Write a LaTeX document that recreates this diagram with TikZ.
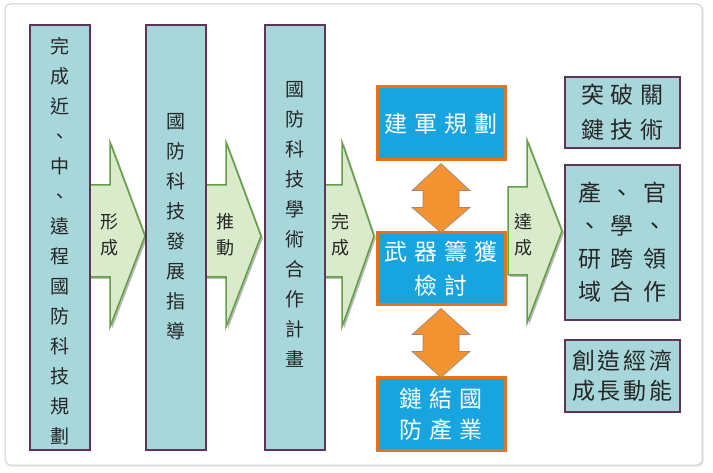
\documentclass[tikz,border=0pt]{standalone}
\usepackage{fontspec}
\setmainfont{Noto Sans CJK TC}
\usetikzlibrary{shadows}
\definecolor{tealfill}{HTML}{A8D7DB}
\definecolor{plum}{HTML}{5E3556}
\definecolor{gfill}{HTML}{D9EBCB}
\definecolor{gline}{HTML}{62A046}
\definecolor{bfill}{HTML}{18A4DF}
\definecolor{bline}{HTML}{E2731F}
\definecolor{ofill}{HTML}{F39231}
\definecolor{framegray}{HTML}{D2D2D2}
\newcommand\cgap{\hspace{7pt}}
\tikzset{
  colbox/.style={draw=plum, line width=2pt, fill=tealfill, minimum width=60pt, inner sep=0pt},
  coltext/.style={align=center, inner sep=0pt, font=\fontsize{19}{30}\selectfont, text=black!85},
  arrtext/.style={align=center, inner sep=0pt, font=\fontsize{18}{26}\selectfont, text=black!85},
  greenarrow/.style={fill=gfill, draw=gline, line width=1.5pt, line join=miter,
     drop shadow={shadow xshift=2pt, shadow yshift=-2pt, opacity=0.4, fill=black!70}},
  bluebox/.style={draw=bline, line width=3pt, fill=bfill, text=white, align=center, inner sep=0pt,
     minimum width=128pt, font=\fontsize{23}{33}\selectfont},
  orangearrow/.style={fill=ofill, draw=black!45, line width=0.6pt, line join=miter},
  tealbox/.style={draw=plum, line width=2pt, fill=tealfill, text=black!85, align=center, inner sep=0pt,
     minimum width=115pt, font=\fontsize{23}{35}\selectfont},
}
\begin{document}
\begin{tikzpicture}[x=1pt,y=-1pt]
\useasboundingbox (0,0) rectangle (713,473);
\fill[white] (0,0) rectangle (713,473);
\draw[framegray, line width=1pt, rounded corners=5pt,
  drop shadow={shadow xshift=1.5pt, shadow yshift=-1.5pt, opacity=0.25, fill=black!40}, fill=white]
  (5,4) rectangle (702,465);

% green arrows (drawn first so the boxes overlay their tails)
\path[greenarrow] (88,185) -- (110,185) -- (110,142) -- (145,236) -- (110,327) -- (110,277) -- (88,277) -- cycle;
\path[greenarrow] (203,185) -- (226,185) -- (226,142) -- (261,236) -- (226,327) -- (226,277) -- (203,277) -- cycle;
\path[greenarrow] (323,185) -- (342,185) -- (342,142) -- (374,236) -- (342,327) -- (342,277) -- (323,277) -- cycle;
\path[greenarrow] (508,187) -- (527,187) -- (527,140) -- (562,231) -- (527,323) -- (527,275) -- (508,275) -- cycle;

% tall columns
\node[colbox, minimum height=425pt] (c1) at (60,237.5) {};
\node[colbox, minimum height=425pt] (c2) at (176,237.5) {};
\node[colbox, minimum height=425pt] (c3) at (295,237.5) {};
\node[coltext] (c1t) at (60,241.5) {完\\成\\近\\、\\中\\、\\遠\\程\\國\\防\\科\\技\\規\\劃};
\node[coltext] (c2t) at (176,226.5) {國\\防\\科\\技\\發\\展\\指\\導};
\node[coltext] (c3t) at (295,224) {國\\防\\科\\技\\學\\術\\合\\作\\計\\畫};

% arrow labels
\node[arrtext] (a1t) at (109,235) {形\\成};
\node[arrtext] (a2t) at (225,235) {推\\動};
\node[arrtext] (a3t) at (340,235) {完\\成};
\node[arrtext] (a4t) at (523,235) {達\\成};

% blue boxes
\node[bluebox, minimum height=73pt] (jp) at (441,123.5) {建\cgap 軍\cgap 規\cgap 劃};
\node[bluebox, minimum height=72pt, font=\fontsize{23}{34}\selectfont] (wq) at (441,269) {武\cgap 器\cgap 籌\cgap 獲\\檢\cgap 討};
\node[bluebox, minimum height=72pt, font=\fontsize{23}{31}\selectfont] (lj) at (441,414) {鏈\cgap 結\cgap 國\\防\cgap 產\cgap 業};

% orange double arrows
\path[orangearrow] (jp.south) ++(0,2) -- ++(-29,27) -- ++(11,0) -- ++(0,17) -- ++(-11,0)
   -- ++(29,25) -- ++(29,-25) -- ++(-11,0) -- ++(0,-17) -- ++(11,0) -- cycle;
\path[orangearrow] (wq.south) ++(0,2) -- ++(-29,26) -- ++(11,0) -- ++(0,17) -- ++(-11,0)
   -- ++(29,26) -- ++(29,-26) -- ++(-11,0) -- ++(0,-17) -- ++(11,0) -- cycle;

% right boxes
\node[tealbox, minimum height=71pt] (tp) at (622.5,112.5) {突\cgap 破\cgap 關\\鍵\cgap 技\cgap 術};
\node[tealbox, minimum height=155pt, font=\fontsize{23}{33}\selectfont] (cg) at (622.5,242.5)
  {產\hspace{10pt}、\hspace{10pt}官\\、\hspace{10pt}學\hspace{10pt}、\\研\hspace{10pt}跨\hspace{10pt}領\\域\hspace{10pt}合\hspace{10pt}作};
\node[tealbox, minimum height=72pt, font=\fontsize{23}{30}\selectfont] (cz) at (622.5,376)
  {創\hspace{3pt}造\hspace{3pt}經\hspace{3pt}濟\\成\hspace{3pt}長\hspace{3pt}動\hspace{3pt}能};
\end{tikzpicture}
\end{document}
